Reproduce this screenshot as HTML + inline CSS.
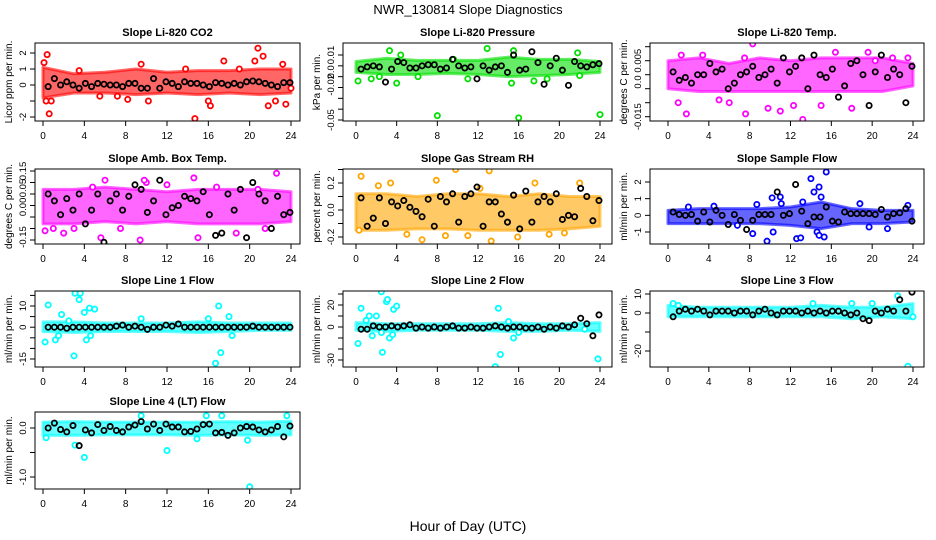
<!DOCTYPE html>
<html><head><meta charset="utf-8"><style>
html,body{margin:0;padding:0;background:#fff;}
svg{display:block;font-family:"Liberation Sans",sans-serif;}
.tt{font-weight:bold;font-size:11px;}
.tk{font-size:10px;}
.yk{font-size:9.5px;}
</style></head><body>
<svg id="chart" width="936" height="540" viewBox="0 0 936 540">
<text x="468" y="14" text-anchor="middle" font-size="13">NWR_130814  Slope Diagnostics</text>
<text x="468" y="531" text-anchor="middle" font-size="14">Hour of Day (UTC)</text>
</svg>
<script>
// ---- shared data ----
const xTicks = [0,4,8,12,16,20,24];
const blackHours = [0.5,1.1,1.7,2.3,2.9,3.5,4.1,4.7,5.3,5.9,6.5,7.1,7.7,8.3,8.9,9.5,10.1,10.7,11.3,11.9,12.5,13.1,13.7,14.3,14.9,15.5,16.1,16.7,17.3,17.9,18.5,19.1,19.7,20.3,20.9,21.5,22.1,22.7,23.3,23.9];
const bandHours = [0,3,6,9,12,15,18,21,24];

// CO2
const co2Hi = [1.1,0.7,0.8,1.0,0.8,0.9,0.9,1.0,1.0];
const co2Lo = [-0.8,-0.5,-0.5,-0.6,-0.5,-0.6,-0.5,-0.6,-0.5];
const co2OutX = [0.1,0.4,0.3,0.6,0.8,8.2,7.2,9.5,10.2,14.7,16,16.2,17.5,19,20.5,20.8,21.3,21.8,22.5,23.2,23.5,24,13.8,5.5,3.5];
const co2OutY = [1.4,1.9,-1,-1.8,-1,-0.9,-0.7,1.3,-1,-2.1,-1,-1.3,1.5,1,1.5,2.3,1.8,-1.3,-1,1.3,-1.2,-0.2,1,-0.7,0.9];
const co2Black = [-0.1,0.4,0,0.2,0,-0.2,0.1,-0.1,0.1,0.05,0,0,-0.1,0.1,0.1,-0.2,-0.2,0.4,-0.2,0.2,0.1,-0.1,0.2,0.1,0.1,0,-0.1,0.15,0.1,0,0.1,0,0.2,0.25,0.2,0.1,0,-0.1,0.15,0.15];
// Pressure
const prHi = [0.004,0.007,0.005,0.005,0.005,0.008,0.006,0.006,0.004];
const prLo = [-0.006,-0.008,-0.008,-0.007,-0.008,-0.01,-0.009,-0.008,-0.006];
const prOutX = [8,16,24,3.3,12.9,0.2,4,15.3,22,15.5,18.8,1.5,2.3,6.1,9.6,11,21.8,4.4,17.5];
const prOutY = [-0.046,-0.048,-0.045,0.014,0.016,-0.014,-0.016,-0.016,-0.009,0.014,-0.012,-0.012,-0.01,-0.01,0.006,-0.012,0.012,0.01,-0.014];
const prBlack = [-0.003,-0.001,0,-0.001,-0.015,-0.003,0.004,0.003,-0.002,-0.002,0,0.001,0.001,-0.003,-0.002,0.006,0,-0.002,-0.001,-0.012,0,-0.004,-0.001,0,-0.006,0.01,-0.004,-0.003,0.013,0.003,-0.017,0,0.007,-0.004,-0.018,0.004,0,-0.001,0.001,0.002];
// Li-820 Temp
const tpHi = [0.005,0.006,0.004,0.006,0.005,0.006,0.006,0.006,0.004];
const tpLo = [-0.005,-0.006,-0.006,-0.006,-0.006,-0.006,-0.006,-0.006,-0.004];
const tpOutX = [8.3,1.8,7.6,13.2,19.6,16.4,11,9.8,1,5,6,15,18,22,23.5,1.3,3.4,7.5,12.3,20.3];
const tpOutY = [0.011,-0.014,-0.014,-0.016,0.008,0.008,-0.013,-0.012,-0.01,-0.009,-0.01,-0.011,-0.012,0.006,0.006,0.007,0.007,0.006,-0.011,0.005];
const tpBlack = [0.001,-0.002,-0.001,-0.003,0,0,0.004,0.001,0.002,-0.005,-0.003,0,0.001,0.003,-0.001,0,0.002,-0.003,0.006,0.001,0.003,0.006,-0.005,0.007,0,-0.001,0.002,-0.008,-0.004,0.004,0.005,0,-0.011,0.001,0.007,-0.001,0.002,0,-0.01,0.003];
// Amb Box Temp
const abHi = [0.07,0.07,0.08,0.07,0.06,0.07,0.07,0.07,0.06];
const abLo = [-0.08,-0.08,-0.07,-0.08,-0.07,-0.08,-0.08,-0.08,-0.07];
const abOutX = [5.6,9.4,14.6,6,22.6,1,15,18.7,21.5,3,10,16.8,20.8,0.2,9.8,12,2,7.5,4.8];
const abOutY = [-0.14,-0.15,0.12,0.11,0.14,-0.1,-0.14,-0.12,-0.1,-0.1,0.1,0.08,0.07,-0.11,0.11,0.09,-0.12,-0.1,0.08];
const abBlack = [0.05,0.02,-0.04,0.03,-0.02,0.05,-0.08,-0.02,0.05,-0.16,0.02,0.05,-0.02,0.04,0.09,0.07,-0.03,0.02,0.11,-0.04,-0.01,0,0.04,0.03,0.02,0.06,-0.04,-0.13,-0.12,0.05,-0.02,0.07,-0.14,0.1,0.05,0.02,-0.1,0.04,-0.04,-0.03];
// Gas Stream RH
const rhHi = [0.12,0.12,0.1,0.12,0.12,0.1,0.12,0.1,0.1];
const rhLo = [-0.15,-0.15,-0.14,-0.14,-0.15,-0.15,-0.15,-0.14,-0.12];
const rhOutX = [9.8,13.1,0.5,6.5,13.3,3.4,7.9,17.6,15.9,8.8,22,2.2,11,19,0.3,5,12.2,20.5];
const rhOutY = [0.3,0.29,0.25,-0.22,-0.23,0.2,0.22,0.2,-0.2,-0.19,0.2,0.18,-0.19,-0.18,-0.15,-0.18,0.16,-0.17];
const rhBlack = [0.09,-0.12,-0.06,0.09,-0.1,0.06,0.03,0.07,0.02,-0.01,-0.05,0.08,-0.12,0.1,0.06,0.12,-0.09,0.1,0.12,0.17,-0.12,0.06,0.06,-0.03,-0.09,0.11,-0.14,0.14,-0.09,0.06,0.1,0.06,0.12,-0.07,-0.04,-0.05,0.16,0.1,-0.08,0.07];
// Sample Flow
const sfHi = [0.3,0.4,0.4,0.4,0.5,0.8,0.4,0.3,0.3];
const sfLo = [-0.5,-0.5,-0.5,-0.5,-0.6,-0.8,-0.5,-0.5,-0.4];
const sfOutX = [11,11.1,12.6,13,13.2,14,14.3,14.8,15,15.5,15.3,14.6,14.8,10.2,10.3,8.7,8.3,18.8,19.7,21.5,6.8,2,4.5,23.5,9.7];
const sfOutY = [1.1,0.7,-1.4,-1.35,0.8,2.2,1.4,1.7,1.1,2.6,-1.3,-1,-1.2,1.05,-1,0.65,-1.1,0.7,-0.7,-0.8,-0.6,0.5,0.55,0.6,-1.55];
const sfBlack = [0.2,0.05,0,0.05,-0.35,0.2,-0.4,0.3,0,-0.55,0.05,-0.3,-0.85,-0.3,0.05,0.05,0.05,1.4,0,0.1,1.85,0.25,-0.5,-0.1,-0.1,0.5,-0.35,-0.4,0.2,0.1,0.1,0.1,0.1,0.05,0.35,-0.1,0.1,0.15,0.4,-0.35];
// Line 1 Flow
const l1Hi = [2.5,2.5,2,2,2,2.5,2,2,2];
const l1Lo = [-2,-2.5,-2,-2,-2,-2.5,-2,-1.5,-1.5];
const l1OutX = [0.2,0.5,1.2,1.5,3,3.1,3.5,3.6,4,4.2,4.5,5,4.6,1.8,16,16.7,17,17.2,18,18.3,9.5,2.5];
const l1OutY = [-7,10.5,-6,-4,-13.5,16,13,16,7,-6,9,8.5,-4,6,4,-17,10,-12,5,-4,4,3];
const l1Black = [0,0,0,-0.5,0,0,0,0,0,0,0,0.5,1,0,0.5,0,-1,0,0,1,0.5,1.5,0,0,0,0,0,0,0,0,0,0,0,0.5,0,0,0,0,0,0];
// Line 2 Flow
const l2Hi = [4,3,3,3,3,4,3,3,4];
const l2Lo = [-3,-4,-3,-3,-3,-4,-4,-3,-4];
const l2OutX = [0.2,0.5,1,1.3,1.6,2,2.5,2.6,2.5,3,3.1,3.3,3.7,4,3.6,13.7,14,14.2,15,15.5,16,23.8,22.5];
const l2OutY = [-15,17,6,10,-8,10,-5,-23,32,23,25,-10,16,19,-7,-36,17,-25,5,-10,-5,-29,-2];
const l2Black = [-2,-2,1,0,0,1,0,1,2,-1,0,-1,0,-1,0,1,-1,-1,0,-1,-1,0,1,0,-1,0,0,-1,-1,0,-2,0,-1,1,0,2,8,3,-8,11];
// Line 3 Flow
const l3Hi = [4,3,3,3,3,4,3,3,5];
const l3Lo = [-2,-2,-2,-2,-2,-2,-3,-2,-3];
const l3OutX = [0.5,18,22.5,24,23.5,20,1,14.2];
const l3OutY = [5,5,9,-2,-28,5,4,5];
const l3Black = [-2,1,2,1,2,1,-1,1,1,1,0,1,1,-1,1,2,0,-1,1,1,1,0,1,0,1,0,1,1,0,-1,0,-3,-4,1,0,2,1,7,1,11];
// Line 4 (LT) Flow
const l4Hi = [0.12,0.13,0.12,0.12,0.12,0.12,0.13,0.12,0.14];
const l4Lo = [-0.15,-0.15,-0.14,-0.14,-0.14,-0.15,-0.14,-0.15,-0.14];
const l4OutX = [20,4,12,3.1,9.5,15.8,17.3,23.6,14.9,19.8,0.3];
const l4OutY = [-1.2,-0.6,-0.46,-0.35,0.25,0.25,0.25,0.25,-0.22,-0.25,-0.2];
const l4Black = [0,0.1,-0.03,-0.08,0.05,-0.36,-0.04,-0.1,0.07,-0.05,0.03,-0.05,-0.08,0.02,0.06,0.13,-0.02,0.08,-0.05,0.08,0.02,0.02,-0.08,-0.07,-0.02,0.07,0.08,-0.1,-0.09,-0.15,-0.1,0,0.03,0.02,-0.04,-0.08,-0.04,0.03,-0.18,0.04];

// ---- panel configs (geometry + scales) ----
const cols = [{l:35,r:300,x0:43,x24:291},{l:343,r:612,x0:356,x24:600},{l:650,r:924,x0:668,x24:913}];
const rows = [{t:43,b:121},{t:169,b:244},{t:291,b:367},{t:412,b:489}];
const panels = [
 {name:'co2',title:'Slope Li-820 CO2',ylab:'Licor ppm per min.',c:0,r:0,col:'#ff0000',ya:[2,53],yb:[-2,117],ticks:[-2,-1,0,1,2],labs:[[-2,'-2'],[0,'0'],[1,'1'],[2,'2']],hi:co2Hi,lo:co2Lo,ox:co2OutX,oy:co2OutY,bk:co2Black},
 {name:'pressure',title:'Slope Li-820 Pressure',ylab:'kPa per min.',c:1,r:0,col:'#00e000',ya:[0.01,55],yb:[-0.05,120],ticks:[0.01,0,-0.01,-0.02,-0.03,-0.04,-0.05],labs:[[0.01,'0.01'],[-0.0055,'0.0'],[-0.0175,'-0.02'],[-0.05,'-0.05']],hi:prHi,lo:prLo,ox:prOutX,oy:prOutY,bk:prBlack},
 {name:'li820-temp',title:'Slope Li-820 Temp.',ylab:'degrees C per min.',c:2,r:0,col:'#ff00ff',ya:[0.005,60.7],yb:[-0.015,116.7],ticks:[0.01,0.005,0,-0.005,-0.01,-0.015],labs:[[0.005,'0.005'],[-0.0026,'0.0'],[-0.015,'-0.015']],hi:tpHi,lo:tpLo,ox:tpOutX,oy:tpOutY,bk:tpBlack},
 {name:'amb-box-temp',title:'Slope Amb. Box Temp.',ylab:'degrees C per min.',c:0,r:1,col:'#ff00ff',ya:[0.15,171],yb:[-0.15,240],ticks:[0.15,0.1,0.05,0,-0.05,-0.1,-0.15],labs:[[0.15,'0.15'],[0.076,'0.05'],[-0.006,'0.00'],[-0.137,'-0.15']],hi:abHi,lo:abLo,ox:abOutX,oy:abOutY,bk:abBlack},
 {name:'gas-stream-rh',title:'Slope Gas Stream RH',ylab:'percent per min.',c:1,r:1,col:'#ffa500',ya:[0.2,183],yb:[-0.2,237],ticks:[0.3,0.2,0.1,0,-0.1,-0.2],labs:[[0.2,'0.2'],[0,'0.0'],[-0.2,'-0.2']],hi:rhHi,lo:rhLo,ox:rhOutX,oy:rhOutY,bk:rhBlack},
 {name:'sample-flow',title:'Slope Sample Flow',ylab:'ml/min per min.',c:2,r:1,col:'#0000ff',ya:[2,182],yb:[-1,232],ticks:[2,1,0,-1],labs:[[2,'2'],[1,'1'],[0,'0'],[-1,'-1']],hi:sfHi,lo:sfLo,ox:sfOutX,oy:sfOutY,bk:sfBlack},
 {name:'line1-flow',title:'Slope Line 1 Flow',ylab:'ml/min per min.',c:0,r:2,col:'#00ffff',ya:[10,306],yb:[-15,359],ticks:[15,10,5,0,-5,-10,-15],labs:[[10,'10'],[0,'0'],[-15,'-15']],hi:l1Hi,lo:l1Lo,ox:l1OutX,oy:l1OutY,bk:l1Black},
 {name:'line2-flow',title:'Slope Line 2 Flow',ylab:'ml/min per min.',c:1,r:2,col:'#00ffff',ya:[20,305],yb:[-30,360],ticks:[30,20,10,0,-10,-20,-30],labs:[[20,'20'],[0,'0'],[-30,'-30']],hi:l2Hi,lo:l2Lo,ox:l2OutX,oy:l2OutY,bk:l2Black},
 {name:'line3-flow',title:'Slope Line 3 Flow',ylab:'ml/min per min.',c:2,r:2,col:'#00ffff',ya:[10,294],yb:[-20,351],ticks:[10,0,-10,-20],labs:[[10,'10'],[0,'0'],[-20,'-20']],hi:l3Hi,lo:l3Lo,ox:l3OutX,oy:l3OutY,bk:l3Black},
 {name:'line4-flow',title:'Slope Line 4 (LT) Flow',ylab:'ml/min per min.',c:0,r:3,col:'#00ffff',ya:[0,428],yb:[-1,477],ticks:[0,-0.5,-1],labs:[[0,'0.0'],[-1,'-1.0']],hi:l4Hi,lo:l4Lo,ox:l4OutX,oy:l4OutY,bk:l4Black}
];

const NS='http://www.w3.org/2000/svg';
const svg=document.getElementById('chart');
function mk(tag,attrs,parent){const e=document.createElementNS(NS,tag);for(const k in attrs)e.setAttribute(k,attrs[k]);(parent||svg).appendChild(e);return e;}

panels.forEach(p=>{
  const C=cols[p.c],R=rows[p.r];
  const g=mk('g',{});
  
  
  const xs=h=>C.x0+(C.x24-C.x0)*h/24;
  const ys=v=>p.ya[1]+(v-p.ya[0])*(p.yb[1]-p.ya[1])/(p.yb[0]-p.ya[0]);
  const clip='clip-'+p.name;
  const cp=mk('clipPath',{id:clip},g);mk('rect',{x:C.l,y:R.t,width:C.r-C.l,height:R.b-R.t},cp);
  const plot=mk('g',{'clip-path':'url(#'+clip+')'},g);
  let pts=bandHours.map((h,i)=>xs(h)+','+ys(p.hi[i]));
  pts=pts.concat(bandHours.slice().reverse().map((h,i)=>xs(h)+','+ys(p.lo[bandHours.length-1-i])));
  const band=mk('polygon',{points:pts.join(' '),fill:p.col,'fill-opacity':0.6,stroke:p.col,'stroke-opacity':0.6,'stroke-width':3,'stroke-linejoin':'round'},plot);
  
  
  p.ox.forEach((h,i)=>{
    const c=mk('circle',{cx:xs(h),cy:ys(p.oy[i]),r:2.6,fill:'#fff',stroke:p.col,'stroke-width':1.8},plot);
    
    
  });
  p.bk.forEach((v,i)=>{
    const c=mk('circle',{cx:xs(blackHours[i]),cy:ys(v),r:2.6,fill:'none',stroke:'#000','stroke-width':1.8},plot);
    
    
  });
  const box=mk('rect',{x:C.l,y:R.t,width:C.r-C.l,height:R.b-R.t,fill:'none',stroke:'#000','stroke-width':1},g);
  
  
  xTicks.forEach(t=>{
    mk('line',{x1:xs(t),x2:xs(t),y1:R.b,y2:R.b+5,stroke:'#000'},g);
    const tx=mk('text',{x:xs(t),y:R.b+18,'text-anchor':'middle',class:'tk'},g);
    tx.textContent=t;
    
    
  });
  p.ticks.forEach(t=>{mk('line',{x1:C.l-5,x2:C.l,y1:ys(t),y2:ys(t),stroke:'#000'},g);});
  p.labs.forEach(l=>{
    const y=ys(l[0]);
    const tx=mk('text',{x:C.l-9,y:y,transform:'rotate(-90 '+(C.l-9)+' '+y+')','text-anchor':'middle',class:'yk'},g);
    tx.textContent=l[1];
    
    
  });
  const yl=mk('text',{x:C.l-23,y:(R.t+R.b)/2,transform:'rotate(-90 '+(C.l-23)+' '+((R.t+R.b)/2)+')','text-anchor':'middle',class:'tk'},g);
  yl.textContent=p.ylab;
  
  
  const tt=mk('text',{x:(C.l+C.r)/2,y:R.t-7,'text-anchor':'middle',class:'tt'},g);
  tt.textContent=p.title;
  
  
});
</script>
</body></html>
